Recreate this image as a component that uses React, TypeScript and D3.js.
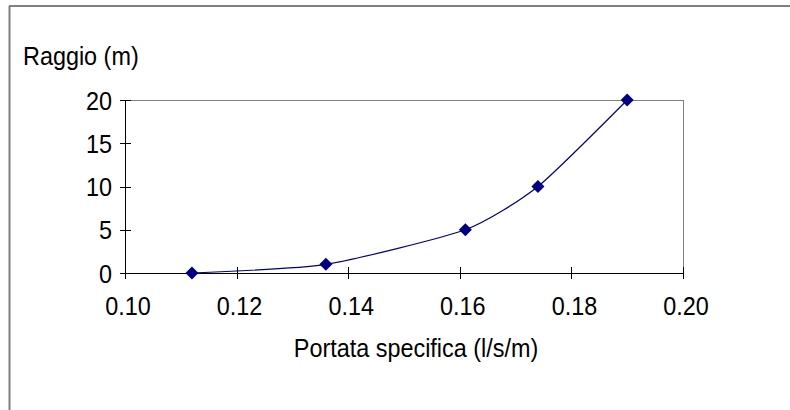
import React from "react";
import * as d3 from "d3";

// Portata specifica (l/s/m) vs raggio (m)
const portata = [0.112, 0.136, 0.161, 0.174, 0.190];
const raggio = [0, 1, 5, 10, 20];
const xTicks = [0.1, 0.12, 0.14, 0.16, 0.18, 0.2];
const yTicks = [0, 5, 10, 15, 20];

const W = 790;
const H = 410;
const plot = { left: 125, right: 683, top: 100, bottom: 273 };
const FONT = "'Liberation Sans', Arial, sans-serif";
const NAVY = "#000080";
const FS = 23.4;
const STRETCH = 1.13;

// Text drawn with a slightly taller glyph proportion
function Label(props: {
  x: number;
  y: number;
  anchor?: "start" | "middle" | "end";
  children: React.ReactNode;
}) {
  return (
    <text
      transform={`translate(${props.x},${props.y}) scale(1,${STRETCH})`}
      textAnchor={props.anchor ?? "start"}
      fontSize={FS}
      fill="#000"
    >
      {props.children}
    </text>
  );
}

export default function App() {
  const x = d3.scaleLinear().domain([0.1, 0.2]).range([plot.left, plot.right]);
  const y = d3.scaleLinear().domain([0, 20]).range([plot.bottom, plot.top]);

  const pts: [number, number][] = portata.map((p, i) => [p, raggio[i]]);
  const line = d3
    .line<[number, number]>()
    .x((d) => x(d[0]))
    .y((d) => y(d[1]))
    .curve(d3.curveCardinal.tension(0.4));

  const marker = d3.symbol().type(d3.symbolSquare).size(85)();

  return (
    <svg
      width={W}
      height={H}
      style={{ position: "absolute", left: 0, top: 0, background: "#fff" }}
      fontFamily={FONT}
    >
      {/* outer chart frame */}
      <line x1={9.5} y1={6} x2={9.5} y2={H} stroke="#808080" strokeWidth={2} />
      <line x1={9} y1={6} x2={W} y2={6} stroke="#808080" strokeWidth={2} />

      {/* plot area border (top / right) */}
      <line x1={plot.left} y1={plot.top + 0.5} x2={plot.right} y2={plot.top + 0.5} stroke="#808080" />
      <line x1={plot.right + 0.5} y1={plot.top} x2={plot.right + 0.5} y2={plot.bottom} stroke="#808080" />

      {/* y axis */}
      <line x1={plot.left + 0.5} y1={plot.top} x2={plot.left + 0.5} y2={plot.bottom + 6} stroke="#000" />
      {yTicks.map((t) => (
        <g key={"y" + t}>
          <line x1={plot.left - 5} x2={plot.left + 6} y1={Math.round(y(t)) + 0.5} y2={Math.round(y(t)) + 0.5} stroke="#000" />
          <Label x={112} y={y(t) + 9.5} anchor="end">
            {t}
          </Label>
        </g>
      ))}

      {/* x axis */}
      <line x1={plot.left} y1={plot.bottom + 0.5} x2={plot.right + 1} y2={plot.bottom + 0.5} stroke="#000" />
      {xTicks.map((t) => (
        <g key={"x" + t}>
          <line x1={Math.round(x(t)) + 0.5} x2={Math.round(x(t)) + 0.5} y1={plot.bottom - 6} y2={plot.bottom + 6} stroke="#000" />
          <Label x={x(t) + 3} y={315} anchor="middle">
            {d3.format(".2f")(t)}
          </Label>
        </g>
      ))}

      {/* series */}
      <path d={line(pts) ?? ""} fill="none" stroke={NAVY} strokeWidth={1.2} />
      {pts.map((d, i) => (
        <path
          key={"m" + i}
          d={marker ?? ""}
          transform={`translate(${x(d[0])},${y(d[1])}) rotate(45)`}
          fill={NAVY}
        />
      ))}

      {/* axis titles */}
      <Label x={23} y={65}>
        Raggio (m)
      </Label>
      <Label x={(plot.left + plot.right) / 2 + 12} y={357} anchor="middle">
        Portata specifica (l/s/m)
      </Label>
    </svg>
  );
}
